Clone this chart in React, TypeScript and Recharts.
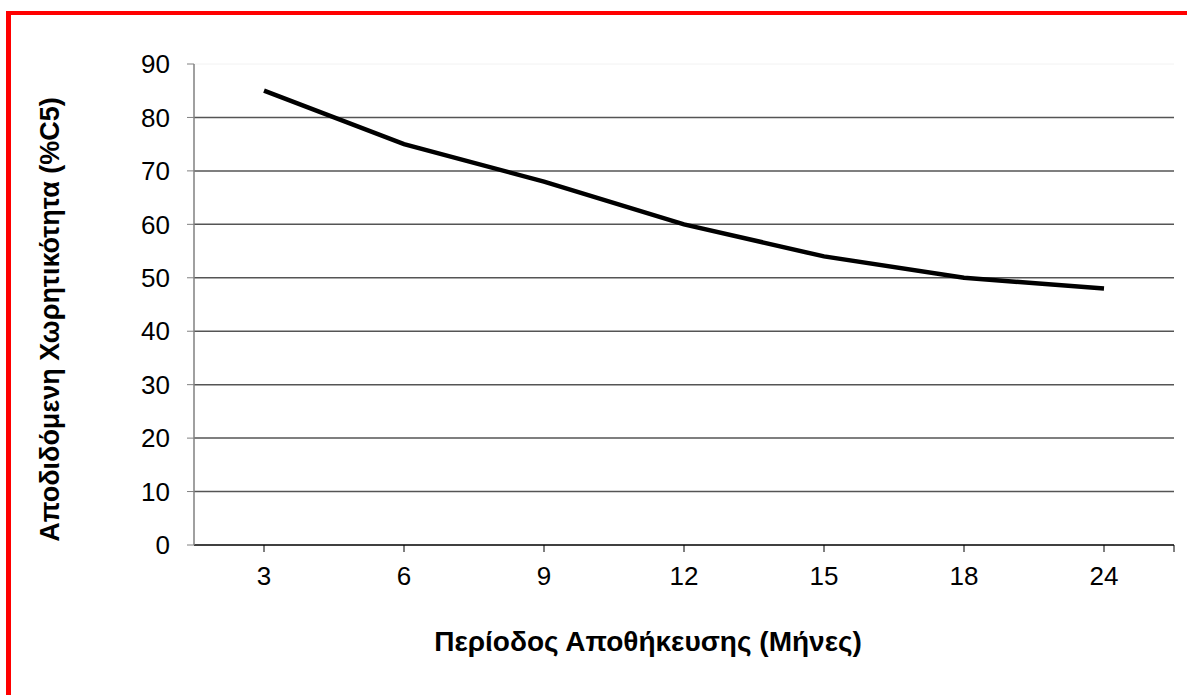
import { Line, LineChart, ReferenceLine, XAxis, YAxis } from 'recharts'

const months = ['3', '6', '9', '12', '15', '18', '24']
const capacity = [85, 75, 68, 60, 54, 50, 48]
const yTicks = [0, 10, 20, 30, 40, 50, 60, 70, 80, 90]
const gridValues = [10, 20, 30, 40, 50, 60, 70, 80]

const data = months.map((m, i) => ({ month: m, value: capacity[i] }))

const font = 'Arial, "Liberation Sans", sans-serif'

// rotated y-axis title, left of the tick labels, a bit below the axis middle
const YTitle = (props: any) => {
  const { viewBox } = props
  const x = viewBox.x - 84
  const y = viewBox.y + viewBox.height / 2 + 15
  return (
    <text
      x={x}
      y={y}
      transform={`rotate(-90, ${x}, ${y})`}
      textAnchor="middle"
      dominantBaseline="central"
      fill="#000"
      fontSize={27}
      fontWeight="bold"
      fontFamily={font}
    >
      Αποδιδόμενη Χωρητικότητα (%C5)
    </text>
  )
}

const XTitle = (props: any) => {
  const { viewBox } = props
  const x = viewBox.x + viewBox.width / 2 - 36
  const y = viewBox.y + viewBox.height + 66
  return (
    <g>
      {/* closing tick at the right end of the category axis */}
      <line
        x1={viewBox.x + viewBox.width}
        x2={viewBox.x + viewBox.width}
        y1={viewBox.y}
        y2={viewBox.y + 7}
        stroke="#000"
      />
      <text
        x={x}
        y={y}
        textAnchor="middle"
        dominantBaseline="central"
        fill="#000"
        fontSize={28}
        fontWeight="bold"
        fontFamily={font}
      >
        Περίοδος Αποθήκευσης (Μήνες)
      </text>
    </g>
  )
}

const App: React.FC = () => {
  return (
    <div style={{ position: 'absolute', left: 0, top: 0, width: 1187, height: 695, background: '#fff' }}>
      <div style={{ position: 'absolute', left: 6, top: 11, width: 1181, height: 4, background: '#ff0000' }} />
      <div style={{ position: 'absolute', left: 6, top: 11, width: 5, height: 684, background: '#ff0000' }} />
      <LineChart
        width={1187}
        height={695}
        data={data}
        margin={{ top: 64, right: 13, left: 134, bottom: 120 }}
        style={{ fontFamily: font }}
      >
        <ReferenceLine y={90} stroke="#f2f2f2" strokeWidth={1} />
        {gridValues.map((v) => (
          <ReferenceLine key={v} y={v} stroke="#555" strokeWidth={1.5} />
        ))}
        <XAxis
          dataKey="month"
          height={30}
          padding={{ left: 70, right: 70 }}
          axisLine={{ stroke: '#000', strokeWidth: 1.5 }}
          tickLine={{ stroke: '#000', strokeWidth: 1 }}
          tickSize={7}
          tickMargin={15}
          fontSize={26}
          tick={{ fill: '#000', fontSize: 26, fontFamily: font }}
          label={<XTitle />}
        />
        <YAxis
          width={60}
          domain={[0, 90]}
          ticks={yTicks}
          interval={0}
          axisLine={{ stroke: '#808080', strokeWidth: 1.5 }}
          tickLine={{ stroke: '#808080', strokeWidth: 1 }}
          tickSize={7}
          tickMargin={17}
          fontSize={26}
          tick={{ fill: '#000', fontSize: 26, fontFamily: font }}
          label={<YTitle />}
        />
        <Line
          type="linear"
          dataKey="value"
          stroke="#000"
          strokeWidth={4.5}
          dot={false}
          isAnimationActive={false}
        />
      </LineChart>
    </div>
  )
}

export default App
